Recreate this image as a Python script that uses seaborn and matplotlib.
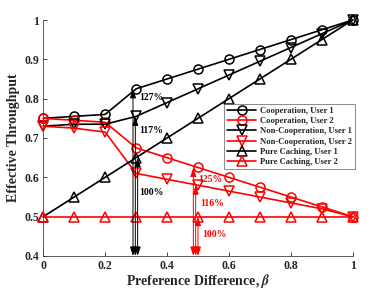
import numpy as np
import pandas as pd
import matplotlib
matplotlib.use("Agg")
import matplotlib.pyplot as plt
import seaborn as sns

beta = [0, 0.1, 0.2, 0.3, 0.4, 0.5, 0.6, 0.7, 0.8, 0.9, 1.0]
coop_u1 = [0.75, 0.755, 0.76, 0.825, 0.85, 0.875, 0.9, 0.925, 0.95, 0.975, 1.0]
coop_u2 = [0.75, 0.745, 0.74, 0.675, 0.65, 0.625, 0.6, 0.575, 0.55, 0.525, 0.5]
noncoop_u1 = [0.73, 0.735, 0.735, 0.755, 0.79, 0.825, 0.86, 0.895, 0.93, 0.965, 1.0]
noncoop_u2 = [0.73, 0.725, 0.715, 0.61, 0.595, 0.58, 0.565, 0.55, 0.535, 0.52, 0.5]
pure_u1 = [0.5, 0.55, 0.6, 0.65, 0.7, 0.75, 0.8, 0.85, 0.9, 0.95, 1.0]
pure_u2 = [0.5, 0.5, 0.5, 0.5, 0.5, 0.5, 0.5, 0.5, 0.5, 0.5, 0.5]

series_names = ["Cooperation, User 1", "Cooperation, User 2",
                "Non-Cooperation, User 1", "Non-Cooperation, User 2",
                "Pure Caching, User 1", "Pure Caching, User 2"]
series_vals = [coop_u1, coop_u2, noncoop_u1, noncoop_u2, pure_u1, pure_u2]

# annotations
black_arrow_x = [0.29, 0.2975, 0.305]
black_arrow_top = [0.825, 0.755, 0.65]
black_labels = ["127%", "117%", "100%"]
black_label_y = [0.804, 0.718, 0.561]
red_arrow_x = [0.485, 0.4925, 0.5]
red_arrow_top = [0.625, 0.58, 0.5]
red_labels = ["125%", "116%", "100%"]
red_label_y = [0.595, 0.534, 0.455]

sns.set_theme(style="white")
plt.rcParams['font.family'] = ['Liberation Serif', 'DejaVu Serif']
plt.rcParams['font.weight'] = 'bold'
plt.rcParams['mathtext.fontset'] = 'stix'

fig = plt.figure(figsize=(3.73, 2.92), dpi=100)
ax = fig.add_axes([0.116, 0.1233, 0.8295, 0.8082])

colors = ["black", "red"] * 3
markers = ["o", "o", "v", "v", "^", "^"]
for name, vals, c, m in zip(series_names, series_vals, colors, markers):
    df = pd.DataFrame({"beta": beta, "val": vals})
    sns.lineplot(data=df, x="beta", y="val", ax=ax, color=c, marker=m,
                 markersize=6.5, markerfacecolor="none", markeredgecolor=c,
                 markeredgewidth=1.1, linewidth=1.2, label=name, clip_on=False)

def darrow(x, y0, y1, c):
    ax.annotate("", xy=(x, y1), xytext=(x, y0),
                arrowprops=dict(arrowstyle="<|-|>,head_length=0.45,head_width=0.15",
                                color=c, lw=0.7, shrinkA=0, shrinkB=0))

for x, t, lab, ly in zip(black_arrow_x, black_arrow_top, black_labels, black_label_y):
    darrow(x, 0.4, t, "black")
    ax.text(0.31, ly, lab, fontsize=7, fontweight="bold", color="black",
            va="center", ha="left")
for i, (x, t, lab, ly) in enumerate(zip(red_arrow_x, red_arrow_top, red_labels, red_label_y)):
    darrow(x, 0.4, t, "red")
    ax.text(0.5 + 0.007 * i, ly, lab, fontsize=7, fontweight="bold", color="red",
            va="center", ha="left")

ax.set_xlim(0, 1)
ax.set_ylim(0.4, 1)
ax.set_xticks([0, 0.2, 0.4, 0.6, 0.8, 1])
ax.set_xticklabels(["0", "0.2", "0.4", "0.6", "0.8", "1"])
ax.set_yticks([0.4, 0.5, 0.6, 0.7, 0.8, 0.9, 1])
ax.set_yticklabels(["0.4", "0.5", "0.6", "0.7", "0.8", "0.9", "1"])
ax.tick_params(direction="in", length=3, width=0.6, labelsize=8.5, colors="#262626",
               bottom=True, left=True, pad=3)
for lab in ax.get_xticklabels() + ax.get_yticklabels():
    lab.set_fontweight("bold")
for s in ["top", "right"]:
    ax.spines[s].set_visible(False)
for s in ["left", "bottom"]:
    ax.spines[s].set_color("#444444")
    ax.spines[s].set_linewidth(0.6)

ax.set_xlabel(r"Preference Difference, $\beta$", fontsize=10, fontweight="bold", labelpad=0)
ax.set_ylabel("Effective Throughput", fontsize=10, fontweight="bold", labelpad=3)

leg = ax.legend(loc="upper right", bbox_to_anchor=(1.007, 0.644), fontsize=6.2,
                frameon=True, fancybox=False, borderpad=0.35, labelspacing=0.25,
                handlelength=3.4, handletextpad=0.4, borderaxespad=0)
leg.get_frame().set_edgecolor("#555555")
leg.get_frame().set_linewidth(0.6)
for t in leg.get_texts():
    t.set_fontweight("bold")

fig.savefig("out.png", dpi=100)
